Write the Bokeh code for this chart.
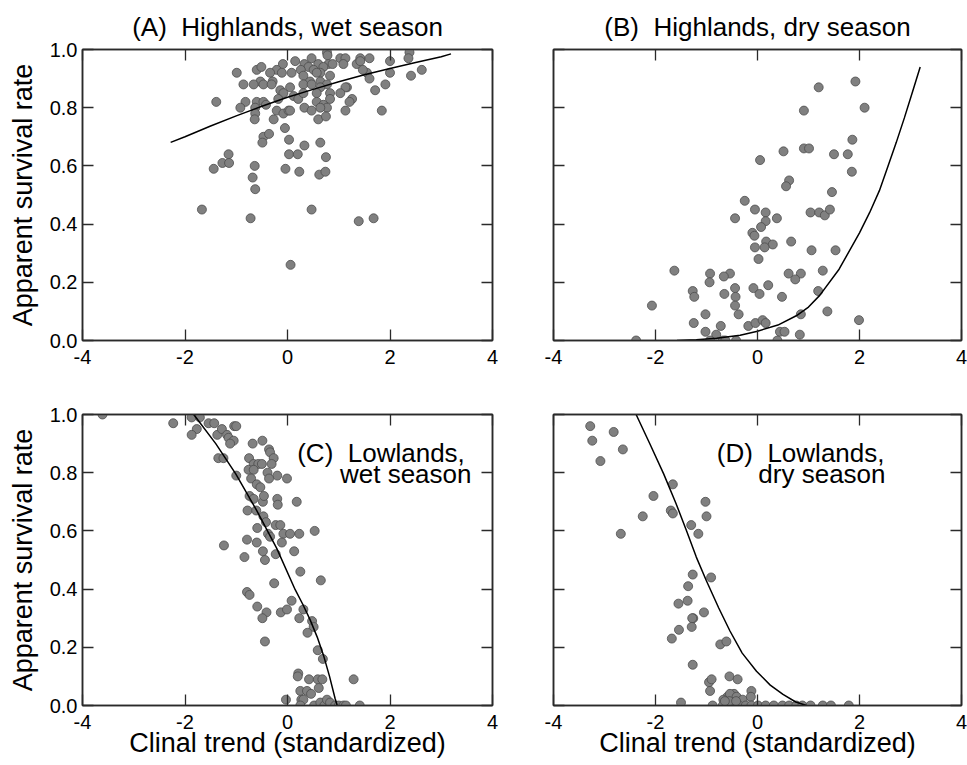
from bokeh.plotting import figure
from bokeh.models import (LinearAxis, FixedTicker, Range1d, Label,
                          NumeralTickFormatter, CustomJSTickFormatter)
from bokeh.layouts import column, row
from bokeh.embed import file_html
from bokeh.resources import INLINE

# ---------------- data ----------------
X_TICKS = [-4, -2, 0, 2, 4]
Y_TICKS = [0.0, 0.2, 0.4, 0.6, 0.8, 1.0]
Y_LABEL = "Apparent survival rate"
X_LABEL = "Clinal trend (standardized)"

A_title = "(A)\u00a0 Highlands, wet season"
B_title = "(B)\u00a0 Highlands, dry season"
C_title = ["(C)\u00a0 Lowlands,", "wet season"]
D_title = ["(D)\u00a0 Lowlands,", "dry season"]

A_x = [0.77, 0.78, 0.47, 1.03, 1.13, 1.42, 1.60, 2.38, 2.36, 0.15,
       0.33, 0.60, 0.80, 0.88, 1.09, 1.35, 1.42, 2.00, -0.60, -0.51,
       -0.09, -0.21, -0.34, -0.11, 0.41, 0.26, 0.51, 0.70, 0.64, 0.83,
       0.08, 0.31, 0.44, 0.57, -0.99, -0.29, -0.53, -0.47, -0.86, -0.66,
       -0.31, 0.05, 0.31, 0.47, 0.64, 0.77, 1.55, 1.60, 1.47, 2.00,
       2.41, 2.62, 1.91, 1.71, 1.16, 1.13, 1.03, 0.83, 0.83, 0.64,
       0.57, -0.14, -0.08, 0.12, 0.21, -0.18, 0.31, -1.39, -0.82, -0.60,
       -0.47, -0.42, -0.92, -0.63, 0.57, 0.70, 0.77, 0.64, 0.33, 0.47,
       -0.21, -0.08, 0.02, 0.05, 1.13, 1.26, 1.21, 1.84, -0.63, -0.64,
       -0.27, 0.60, 0.75, -0.05, -0.47, -0.36, -0.49, 0.03, 0.33, 0.64,
       -1.15, -1.27, -1.14, -1.44, -0.64, -0.68, -0.63, 0.03, 0.20, 0.75,
       -0.04, 0.23, 0.62, 0.74, -1.67, -0.72, 0.47, 1.39, 1.68, 0.06]
A_y = [0.99, 0.98, 0.97, 0.97, 0.97, 0.97, 0.97, 0.99, 0.97, 0.96,
       0.95, 0.95, 0.95, 0.95, 0.95, 0.95, 0.96, 0.96, 0.93, 0.94,
       0.95, 0.93, 0.92, 0.92, 0.94, 0.93, 0.93, 0.94, 0.92, 0.91,
       0.92, 0.91, 0.89, 0.92, 0.92, 0.89, 0.89, 0.88, 0.88, 0.88,
       0.88, 0.87, 0.88, 0.88, 0.89, 0.88, 0.92, 0.90, 0.93, 0.92,
       0.91, 0.93, 0.88, 0.86, 0.87, 0.87, 0.85, 0.85, 0.83, 0.87,
       0.85, 0.86, 0.85, 0.84, 0.83, 0.83, 0.85, 0.82, 0.82, 0.82,
       0.82, 0.81, 0.80, 0.80, 0.82, 0.81, 0.80, 0.80, 0.80, 0.79,
       0.79, 0.78, 0.79, 0.79, 0.79, 0.83, 0.82, 0.79, 0.78, 0.76,
       0.76, 0.76, 0.77, 0.73, 0.70, 0.71, 0.68, 0.69, 0.67, 0.68,
       0.64, 0.61, 0.61, 0.59, 0.60, 0.56, 0.52, 0.64, 0.64, 0.63,
       0.59, 0.58, 0.57, 0.58, 0.45, 0.42, 0.45, 0.41, 0.42, 0.26]
A_fit_x = [-2.28, -2.0, -1.5, -1.0, -0.5, 0.0, 0.5, 1.0, 1.5, 2.0, 2.5, 3.0, 3.19]
A_fit_y = [0.681, 0.700, 0.737, 0.772, 0.805, 0.836, 0.863, 0.889, 0.913, 0.935, 0.955, 0.975, 0.985]

B_x = [1.92, 1.20, 0.91, 2.10, 1.86, 0.91, 1.01, 0.51, 1.50, 1.77,
       0.05, 1.85, 0.62, 0.56, 1.46, -0.25, -0.05, 0.16, -0.44, 0.16,
       0.38, 1.04, 1.21, 1.32, 1.42, 0.07, -0.10, -0.06, 0.17, 0.66,
       0.30, 0.14, -0.05, 1.06, 1.53, 0.02, -1.63, -0.93, -0.54, -0.66,
       -0.94, 0.61, 0.85, 0.74, 1.28, -0.08, 0.21, -1.27, -0.44, -0.65,
       -0.43, -1.24, 0.04, 0.48, 1.19, -0.44, -2.07, -0.37, -1.02, 0.85,
       1.37, 1.99, -1.25, -0.72, -0.18, -0.04, 0.10, 0.16, -1.02, -0.81,
       0.44, 0.53, 0.83, -2.38, -0.93, -0.68, -0.63, -0.42, 0.39]
B_y = [0.89, 0.87, 0.79, 0.80, 0.69, 0.66, 0.66, 0.65, 0.64, 0.64,
       0.62, 0.58, 0.55, 0.53, 0.51, 0.48, 0.45, 0.44, 0.42, 0.41,
       0.42, 0.44, 0.44, 0.43, 0.45, 0.39, 0.37, 0.36, 0.34, 0.34,
       0.33, 0.32, 0.32, 0.31, 0.31, 0.28, 0.24, 0.23, 0.23, 0.22,
       0.20, 0.23, 0.23, 0.21, 0.24, 0.18, 0.19, 0.17, 0.18, 0.16,
       0.15, 0.15, 0.16, 0.15, 0.17, 0.12, 0.12, 0.09, 0.09, 0.09,
       0.10, 0.07, 0.06, 0.05, 0.05, 0.06, 0.07, 0.06, 0.03, 0.02,
       0.03, 0.03, 0.02, 0.00, 0.00, 0.00, 0.00, 0.00, 0.00]
B_fit_x = [-1.58, -1.2, -0.8, -0.34, 0.0, 0.4, 0.76, 1.0, 1.22, 1.6, 2.0, 2.2, 2.39, 2.56, 2.72, 2.88, 3.04, 3.19]
B_fit_y = [0.0, 0.003, 0.008, 0.018, 0.032, 0.053, 0.085, 0.115, 0.155, 0.245, 0.37, 0.44, 0.515, 0.60, 0.68, 0.765, 0.855, 0.94]

C_x = [-3.61, -2.23, -1.87, -1.71, -1.54, -1.43, -1.77, -1.87, -1.37, -1.28,
       -1.18, -1.15, -1.05, -1.12, -1.04, -1.00, -1.35, -1.25, -1.00, -0.68,
       -0.49, -0.36, -0.34, -0.27, -0.31, -0.75, -0.66, -0.57, -0.50, -0.76,
       -0.66, -0.39, -0.20, -0.01, -0.71, -0.36, -0.60, -0.53, -0.74, -0.66,
       -0.48, -0.46, -0.20, -0.19, 0.18, -0.78, -0.61, -0.47, -0.42, -0.59,
       -0.23, -0.14, -0.08, 0.05, 0.23, 0.53, -0.38, -0.34, -0.79, -0.60,
       -0.11, -1.24, 0.13, -0.48, -0.23, -0.84, -0.44, 0.25, -0.26, 0.65,
       -0.79, -0.74, 0.08, -0.59, -0.41, -0.49, -0.13, -0.01, 0.31, 0.23,
       0.48, 0.51, 0.39, -0.44, 0.59, 0.69, 0.21, 0.20, 0.42, 0.59,
       0.68, 1.29, 0.61, 0.25, 0.38, 0.46, 0.27, 0.31, -0.03, 0.25,
       0.52, 0.64, 0.72, 0.77, 0.83, 0.93, 1.00, 1.09, 1.14, 1.41]
C_y = [1.00, 0.97, 0.99, 0.99, 0.97, 0.97, 0.95, 0.93, 0.93, 0.95,
       0.93, 0.92, 0.91, 0.90, 0.96, 0.96, 0.85, 0.85, 0.79, 0.90,
       0.91, 0.88, 0.87, 0.85, 0.83, 0.85, 0.83, 0.83, 0.83, 0.81,
       0.81, 0.80, 0.79, 0.78, 0.78, 0.78, 0.76, 0.75, 0.72, 0.71,
       0.70, 0.72, 0.71, 0.69, 0.70, 0.67, 0.67, 0.65, 0.63, 0.61,
       0.62, 0.62, 0.59, 0.59, 0.59, 0.60, 0.59, 0.58, 0.57, 0.56,
       0.56, 0.55, 0.53, 0.53, 0.52, 0.51, 0.50, 0.46, 0.42, 0.43,
       0.39, 0.38, 0.36, 0.34, 0.32, 0.30, 0.32, 0.33, 0.33, 0.30,
       0.29, 0.27, 0.25, 0.22, 0.19, 0.16, 0.11, 0.10, 0.09, 0.09,
       0.09, 0.09, 0.06, 0.05, 0.05, 0.04, 0.02, 0.02, 0.02, 0.00,
       0.00, 0.01, 0.00, 0.02, 0.01, 0.00, 0.00, 0.00, 0.00, 0.00]
C_fit_x = [-1.83, -1.4, -1.01, -0.6, -0.21, 0.15, 0.3, 0.44, 0.58, 0.71, 0.82, 0.93, 0.97]
C_fit_y = [1.0, 0.90, 0.796, 0.67, 0.54, 0.398, 0.347, 0.295, 0.235, 0.168, 0.10, 0.023, 0.0]

D_x = [-3.28, -3.24, -2.82, -2.64, -3.08, -1.66, -2.04, -1.02, -1.70, -1.66,
       -2.25, -1.00, -1.30, -2.68, -1.16, -1.27, -0.91, -1.36, -1.37, -1.55,
       -1.26, -1.28, -1.05, -1.54, -1.29, -1.68, -0.73, -0.61, -1.27, -0.55,
       -0.39, -0.95, -0.90, -0.93, -0.12, -0.46, -0.59, -0.67, -0.54, -0.41,
       -0.29, -0.13, -1.50, -0.88, -0.68, -0.55, -0.46, -0.36, -0.23, -0.12,
       0.01, 0.16, 0.32, 0.49, 0.62, 0.76, 0.88, 1.04, 1.28, 1.44,
       1.79, -0.55, -0.64, -0.42]
D_y = [0.96, 0.91, 0.94, 0.88, 0.84, 0.76, 0.72, 0.70, 0.67, 0.66,
       0.65, 0.65, 0.62, 0.59, 0.59, 0.45, 0.44, 0.41, 0.36, 0.35,
       0.30, 0.30, 0.32, 0.26, 0.27, 0.23, 0.21, 0.22, 0.14, 0.10,
       0.09, 0.08, 0.09, 0.05, 0.05, 0.04, 0.03, 0.02, 0.04, 0.03,
       0.02, 0.03, 0.01, 0.00, 0.00, 0.00, 0.00, 0.00, 0.00, 0.00,
       0.00, 0.00, 0.00, 0.00, 0.00, 0.00, 0.00, 0.00, 0.00, 0.00,
       0.00, 0.015, 0.015, 0.015]
D_fit_x = [-2.38, -2.1, -1.84, -1.6, -1.39, -1.2, -1.0, -0.76, -0.54, -0.3, -0.02, 0.25, 0.5, 0.75, 0.96]
D_fit_y = [1.0, 0.895, 0.796, 0.695, 0.60, 0.51, 0.428, 0.335, 0.256, 0.18, 0.118, 0.07, 0.038, 0.012, 0.0]

# ---------------- styling ----------------
FONT = "Liberation Sans"
FRAME = "#2a2a2a"
PT_FILL = "#808080"
PT_LINE = "#4d4d4d"
BIG = "27px"
TITLE = "26px"


def style_axis(ax, show_labels):
    ax.axis_line_color = FRAME
    ax.axis_line_width = 1.5
    ax.major_tick_line_color = FRAME
    ax.major_tick_line_width = 1.3
    ax.major_tick_in = 11
    ax.major_tick_out = 0
    ax.minor_tick_line_color = None
    ax.major_label_text_font = FONT
    if show_labels:
        ax.major_label_text_color = "black"
        ax.major_label_text_font_size = "20px"
    else:
        ax.major_label_text_color = None
        ax.major_label_text_font_size = "1px"
        ax.major_label_standoff = 0


def panel(xs, ys, fx, fy, w, h, bl, br, bt, bb, ylabels, title=None, xlabel=False):
    p = figure(width=w, height=h, x_range=Range1d(-4, 4), y_range=Range1d(0, 1),
               output_backend="svg", toolbar_location=None, tools="",
               min_border_left=bl, min_border_right=br,
               min_border_top=bt, min_border_bottom=bb)
    p.grid.visible = False
    p.outline_line_color = FRAME
    p.outline_line_width = 1.5
    p.background_fill_color = "white"
    p.border_fill_color = "white"
    if title is not None:
        p.title.text = title
        p.title.align = "center"
        p.title.text_font = FONT
        p.title.text_font_size = TITLE
        p.title.text_font_style = "normal"
        p.title.text_color = "black"
        p.title.standoff = 16
    bottom = p.below[0]
    left = p.left[0]
    bottom.ticker = FixedTicker(ticks=X_TICKS)
    bottom.formatter = CustomJSTickFormatter(code="return tick.toString();")
    left.ticker = FixedTicker(ticks=Y_TICKS)
    left.formatter = NumeralTickFormatter(format="0.0")
    top = LinearAxis(ticker=FixedTicker(ticks=X_TICKS))
    right = LinearAxis(ticker=FixedTicker(ticks=Y_TICKS))
    p.add_layout(top, "above")
    p.add_layout(right, "right")
    style_axis(bottom, True)
    bottom.major_label_standoff = 9
    if xlabel:
        bottom.axis_label = X_LABEL
        bottom.axis_label_text_font = FONT
        bottom.axis_label_text_font_size = BIG
        bottom.axis_label_text_font_style = "normal"
        bottom.axis_label_text_color = "black"
        bottom.axis_label_standoff = -4
    style_axis(left, ylabels)
    if ylabels:
        left.major_label_standoff = 5
        left.axis_label = Y_LABEL
        left.axis_label_text_font = FONT
        left.axis_label_text_font_size = BIG
        left.axis_label_text_font_style = "normal"
        left.axis_label_text_color = "black"
        left.axis_label_standoff = 9
    style_axis(top, False)
    style_axis(right, False)
    p.scatter(xs, ys, marker="circle", size=9, fill_color=PT_FILL,
              line_color=PT_LINE, line_width=0.8)
    p.line(fx, fy, line_color="black", line_width=1.5)
    return p


def add_label(p, x, y, text, align):
    p.add_layout(Label(x=x, y=y, text=text, text_align=align,
                       text_baseline="alphabetic", text_font=FONT,
                       text_font_size=TITLE, text_color="black"))


pA = panel(A_x, A_y, A_fit_x, A_fit_y, 520, 383, 82, 28, 49, 43, True, title=A_title)
pB = panel(B_x, B_y, B_fit_x, B_fit_y, 447, 383, 33, 6, 49, 43, False, title=B_title)
pC = panel(C_x, C_y, C_fit_x, C_fit_y, 520, 382, 82, 28, 31, 60, True, xlabel=True)
pD = panel(D_x, D_y, D_fit_x, D_fit_y, 447, 382, 33, 6, 31, 60, False, xlabel=True)

add_label(pC, 3.46, 0.869, C_title[0], "right")
add_label(pC, 3.59, 0.797, C_title[1], "right")
add_label(pD, 2.49, 0.869, D_title[0], "right")
add_label(pD, 2.51, 0.797, D_title[1], "right")

layout = column(row(pA, pB), row(pC, pD))
open("out.html", "w").write(file_html(layout, INLINE))
